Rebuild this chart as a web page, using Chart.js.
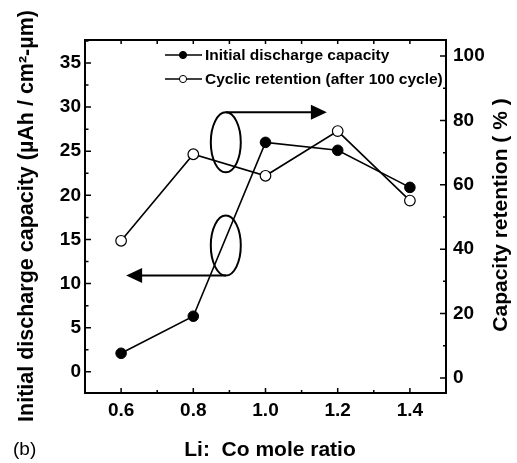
<!DOCTYPE html>
<html>
<head>
<meta charset="utf-8">
<script src="https://cdn.jsdelivr.net/npm/chart.js@4"></script>
<style>
  html, body { margin: 0; padding: 0; background: #fff; }
  #wrap { width: 517px; height: 463px; }
</style>
</head>
<body>
<div id="wrap"><canvas id="c-cap" width="517" height="463"></canvas></div>
<script>
// === DATA ===
const ratios = [0.6, 0.8, 1.0, 1.2, 1.4];
const capacity = [2.1, 6.3, 26.0, 25.1, 20.9];      // µAh / cm²-µm (left axis)
const retention = [42.6, 69.5, 62.8, 76.7, 55.1];   // % (right axis)

const ratioTicks = [0.6, 0.8, 1.0, 1.2, 1.4];
const capTicks = [0, 5, 10, 15, 20, 25, 30, 35];
const retTicks = [0, 20, 40, 60, 80, 100];

const FONT = '"Liberation Sans", Arial, sans-serif';

// fixed tick list for a scale
const fixTicks = arr => scale => { scale.ticks = arr.map(v => ({ value: v })); };

// === DECORATION (box, inward ticks, titles, legend, callouts) ===
const decor = {
    id: 'decor',
    afterDatasetsDraw(chart) {
        const { ctx, chartArea: a, scales } = chart;
        const x = scales.x, yl = scales.y, yr = scales.y1;
        ctx.save();
        ctx.strokeStyle = '#000';
        ctx.fillStyle = '#000';

        // frame
        ctx.lineWidth = 2;
        ctx.strokeRect(a.left, a.top, a.right - a.left, a.bottom - a.top);

        // ticks pointing inside
        ctx.lineWidth = 1.5;
        ctx.beginPath();
        for (let v = 0.5; v <= 1.5001; v += 0.1) {
            const px = x.getPixelForValue(v);
            const major = Math.round(v * 10) % 2 === 0;
            ctx.moveTo(px, a.bottom); ctx.lineTo(px, a.bottom - (major ? 5 : 3));
            ctx.moveTo(px, a.top); ctx.lineTo(px, a.top + 4);
        }
        for (let v = -2.5; v <= 37.5; v += 2.5) {
            const py = yl.getPixelForValue(v);
            if (py < a.top || py > a.bottom) continue;
            const major = v % 5 === 0;
            ctx.moveTo(a.left, py); ctx.lineTo(a.left + (major ? 6 : 3.5), py);
        }
        for (let v = 0; v <= 100; v += 10) {
            const py = yr.getPixelForValue(v);
            const major = v % 20 === 0;
            ctx.moveTo(a.right, py); ctx.lineTo(a.right - (major ? 6 : 3), py);
        }
        ctx.stroke();

        // callouts: ellipses + arrows
        ctx.lineWidth = 2;
        const ex = x.getPixelForValue(0.89);
        const e1 = yl.getPixelForValue(26.0), e2 = yl.getPixelForValue(14.3);
        const rx = 15, ry = 30;
        [e1, e2].forEach(ey => {
            ctx.beginPath();
            ctx.ellipse(ex, ey, rx, ry, 0, 0, Math.PI * 2);
            ctx.stroke();
        });
        const arrow = (x0, y0, x1) => {
            const dir = Math.sign(x1 - x0);
            ctx.beginPath();
            ctx.moveTo(x0, y0); ctx.lineTo(x1 - dir * 14, y0);
            ctx.stroke();
            ctx.beginPath();
            ctx.moveTo(x1, y0);
            ctx.lineTo(x1 - dir * 16, y0 - 7.5);
            ctx.lineTo(x1 - dir * 16, y0 + 7.5);
            ctx.closePath();
            ctx.fill();
        };
        arrow(ex, e1 - ry, x.getPixelForValue(1.17));
        arrow(ex, e2 + ry, x.getPixelForValue(0.614));

        // legend
        ctx.font = 'bold 15.5px ' + FONT;
        ctx.textBaseline = 'middle';
        ctx.textAlign = 'left';
        chart.data.datasets.forEach((ds, i) => {
            const ly = 55 + i * 24;
            ctx.lineWidth = 1.5;
            ctx.beginPath();
            ctx.moveTo(165, ly); ctx.lineTo(202, ly);
            ctx.stroke();
            ctx.beginPath();
            ctx.arc(183, ly, 3.6, 0, Math.PI * 2);
            ctx.fillStyle = ds.pointBackgroundColor;
            ctx.fill();
            ctx.lineWidth = 1;
            ctx.stroke();
            ctx.fillStyle = '#000';
            ctx.fillText(ds.label, 205, ly + 1);
        });

        // axis titles
        ctx.font = 'bold 21px ' + FONT;
        ctx.textBaseline = 'alphabetic';
        ctx.textAlign = 'center';
        ctx.fillText('Li:  Co mole ratio', 270, 456);
        ctx.save();
        ctx.font = 'bold 21.5px ' + FONT;
        ctx.translate(33, 216);
        ctx.rotate(-Math.PI / 2);
        ctx.fillText('Initial discharge capacity (µAh / cm²-µm)', 0, 0);
        ctx.restore();
        ctx.save();
        ctx.translate(507, 215);
        ctx.rotate(-Math.PI / 2);
        ctx.fillText('Capacity retention ( % )', 0, 0);
        ctx.restore();

        ctx.font = '19px ' + FONT;
        ctx.textAlign = 'left';
        ctx.fillText('(b)', 13, 455);
        ctx.restore();
    }
};

const tickFont = { family: FONT, size: 19, weight: 'bold' };

new Chart(document.getElementById('c-cap'), {
    type: 'line',
    data: {
        datasets: [
            {
                label: 'Initial discharge capacity',
                data: ratios.map((r, i) => ({ x: r, y: capacity[i] })),
                yAxisID: 'y',
                borderColor: '#000', borderWidth: 1.6,
                pointRadius: 5.3, pointBackgroundColor: '#000', pointBorderColor: '#000',
                pointBorderWidth: 1
            },
            {
                label: 'Cyclic retention (after 100 cycle)',
                data: ratios.map((r, i) => ({ x: r, y: retention[i] })),
                yAxisID: 'y1',
                borderColor: '#000', borderWidth: 1.6,
                pointRadius: 5.3, pointBackgroundColor: '#fff', pointBorderColor: '#000',
                pointBorderWidth: 1.2
            }
        ]
    },
    options: {
        responsive: false,
        animation: false,
        layout: { padding: { top: 40, left: 0, right: 0, bottom: 0 } },
        plugins: { legend: { display: false }, tooltip: { enabled: false } },
        elements: { line: { tension: 0 } },
        scales: {
            x: {
                type: 'linear', min: 0.5, max: 1.5,
                afterBuildTicks: fixTicks(ratioTicks),
                afterFit: s => { s.height = 70; },
                grid: { display: false, drawTicks: false },
                border: { display: false },
                ticks: { color: '#000', font: tickFont, padding: 6, callback: v => v.toFixed(1) }
            },
            y: {
                position: 'left', min: -2.4, max: 37.6,
                afterBuildTicks: fixTicks(capTicks),
                afterFit: s => { s.width = 85; },
                grid: { display: false, drawTicks: false },
                border: { display: false },
                ticks: { color: '#000', font: tickFont, padding: 4 }
            },
            y1: {
                position: 'right', min: -4.7, max: 105,
                afterBuildTicks: fixTicks(retTicks),
                afterFit: s => { s.width = 71; },
                grid: { display: false, drawTicks: false },
                border: { display: false },
                ticks: { color: '#000', font: tickFont, padding: 7 }
            }
        }
    },
    plugins: [decor]
});
</script>
</body>
</html>
